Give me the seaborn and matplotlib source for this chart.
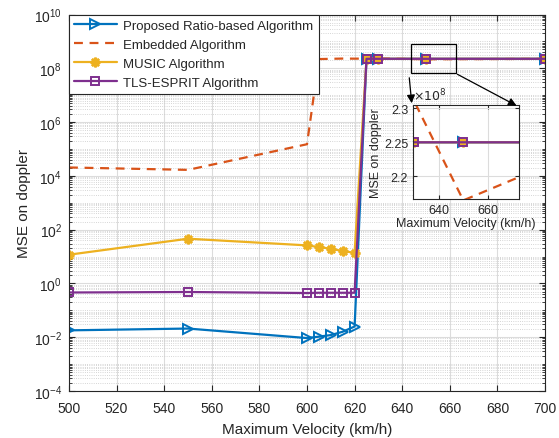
import matplotlib

matplotlib.use("Agg")
import matplotlib.pyplot as plt
import matplotlib.ticker as mticker
from matplotlib.patches import Rectangle, FancyArrowPatch
import numpy as np
import seaborn as sns

sns.set_style("ticks")
plt.rcParams["font.family"] = ["Liberation Sans", "DejaVu Sans"]

# --- data -----------------------------------------------------------------
velocity = [500, 550, 600, 605, 610, 615, 620, 625, 630, 650, 700]
mse_proposed = [0.018, 0.021, 0.0093, 0.0105, 0.012, 0.016, 0.025,
                2.25e8, 2.25e8, 2.25e8, 2.25e8]
mse_embedded = [2.05e4, 1.67e4, 1.5e5, 2.2e8, 2.25e8, 2.3e8, 2.28e8,
                2.3e8, 2.31e8, 2.165e8, 2.24e8]
mse_music = [11.7, 46, 26, 22.5, 19.5, 16, 13.8,
             2.25e8, 2.25e8, 2.25e8, 2.25e8]
mse_tls = [0.46, 0.48, 0.44, 0.45, 0.45, 0.45, 0.45,
           2.25e8, 2.25e8, 2.25e8, 2.25e8]

C_BLUE, C_ORANGE, C_YELLOW, C_PURPLE = "#0072BD", "#D95319", "#EDB120", "#7E2F8E"
ASTERISK = (8, 2, 0)


def draw_series(ax, ms_scale=1.0, labels=True):
    sns.lineplot(x=velocity, y=mse_proposed, ax=ax, color=C_BLUE, lw=1.6,
                 marker=">", markersize=7 * ms_scale, markerfacecolor="none",
                 markeredgecolor=C_BLUE, markeredgewidth=1.4,
                 label="Proposed Ratio-based Algorithm" if labels else None)
    sns.lineplot(x=velocity, y=mse_embedded, ax=ax, color=C_ORANGE, lw=1.6,
                 dashes=(4, 3), label="Embedded Algorithm" if labels else None)
    sns.lineplot(x=velocity, y=mse_music, ax=ax, color=C_YELLOW, lw=1.6,
                 marker="o", markersize=7 * ms_scale,
                 markeredgecolor=C_YELLOW, markeredgewidth=1.8,
                 label="MUSIC Algorithm" if labels else None)
    ax.lines[-1].set_marker(ASTERISK)
    sns.lineplot(x=velocity, y=mse_tls, ax=ax, color=C_PURPLE, lw=1.6,
                 marker="s", markersize=6 * ms_scale, markerfacecolor="none",
                 markeredgecolor=C_PURPLE, markeredgewidth=1.4,
                 label="TLS-ESPRIT Algorithm" if labels else None)


W, H = 559, 439
fig = plt.figure(figsize=(W / 100, H / 100), dpi=100)
ax = fig.add_axes([69 / W, 1 - 392 / H, (545 - 69) / W, (392 - 15.5) / H])
ax.set_yscale("log")
draw_series(ax)

ax.set_xlim(500, 700)
ax.set_ylim(1e-4, 1e10)
ax.set_xticks(np.arange(500, 701, 20))
ax.yaxis.set_major_locator(mticker.FixedLocator([10.0 ** k for k in range(-4, 11, 2)]))
ax.yaxis.set_minor_locator(mticker.LogLocator(base=10, subs=np.arange(1, 10), numticks=50))
ax.yaxis.set_minor_formatter(mticker.NullFormatter())
ax.tick_params(direction="in", which="both", top=True, right=True, labelsize=10,
               colors="#262626")
ax.tick_params(which="major", length=4)
ax.tick_params(which="minor", length=2)
ax.tick_params(axis="x", pad=7)
ax.tick_params(axis="y", pad=5)
ax.grid(True, which="major", color="#dcdcdc", lw=0.8)
ax.grid(True, which="minor", axis="y", color="#c8c8c8", lw=0.6, ls=":")
ax.set_axisbelow(True)
for s in ax.spines.values():
    s.set_color("#262626")
    s.set_linewidth(0.8)
ax.set_xlabel("Maximum Velocity (km/h)", fontsize=11, labelpad=5)
ax.set_ylabel("MSE on doppler", fontsize=11, labelpad=2)

leg = ax.legend(loc="upper left", borderaxespad=0, fontsize=9.5, fancybox=False,
                edgecolor="#262626", framealpha=1, handlelength=3.2,
                labelspacing=0.5, borderpad=0.4, handletextpad=0.5)
leg.get_frame().set_linewidth(0.8)

# zoom rectangle on main axes
ax.add_patch(Rectangle((643.5, 6.8e7), 19, 8.1e8 - 6.8e7, fill=False,
                       edgecolor="black", lw=0.9, zorder=5))

# --- inset ----------------------------------------------------------------
ins = fig.add_axes([413 / W, 1 - 200 / H, (519 - 413) / W, (200 - 105.7) / H])
draw_series(ins, labels=False)
ins.set_xlim(629.5, 672.7)
ins.set_ylim(2.167e8, 2.305e8)
ins.set_xticks([640, 660])
ins.set_yticks([2.2e8, 2.25e8, 2.3e8])
ins.yaxis.set_major_formatter(mticker.FuncFormatter(lambda v, _: f"{v / 1e8:g}"))
ins.text(0.0, 1.01, r"$\times10^8$", transform=ins.transAxes, fontsize=9,
         ha="left", va="bottom", color="#262626")
ins.tick_params(direction="in", top=True, right=True, labelsize=9, colors="#262626", length=3)
ins.grid(True, color="#dcdcdc", lw=0.8)
ins.set_axisbelow(True)
ins.set_facecolor("white")
for s in ins.spines.values():
    s.set_color("#262626")
    s.set_linewidth(0.8)
ins.set_xlabel("Maximum Velocity (km/h)", fontsize=9, labelpad=1)
ins.set_ylabel("MSE on doppler", fontsize=9, labelpad=1)

# arrows from zoom box to inset
for (x0, y0), (x1, y1) in [((409, 76), (412, 107)), ((455, 74), (519, 108))]:
    fig.add_artist(FancyArrowPatch(
        (x0 / W, 1 - y0 / H), (x1 / W, 1 - y1 / H), transform=fig.transFigure,
        arrowstyle="-|>", mutation_scale=12, color="black", lw=0.9))

fig.savefig("out.png", dpi=100)
